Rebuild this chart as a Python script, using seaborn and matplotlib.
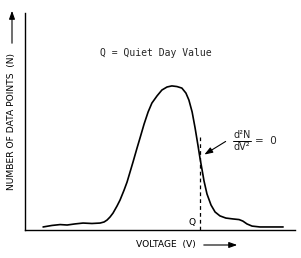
import matplotlib
matplotlib.use("Agg")
import matplotlib.pyplot as plt
from matplotlib.patches import FancyArrowPatch
from matplotlib.lines import Line2D
import pandas as pd
import seaborn as sns

# curve (voltage and count in arbitrary 0-100 units)
voltage = [6.7, 10.0, 13.0, 15.6, 18.5, 21.5, 24.8, 27.8, 29.3, 30.4, 31.5, 32.6,
           34.1, 35.2, 36.7, 37.8, 38.9, 40.0, 41.5, 42.6, 44.1, 45.6, 47.0, 48.9,
           50.7, 52.6, 54.4, 56.3, 58.1, 59.6, 60.7, 61.9, 63.0, 64.1, 64.8, 65.6,
           66.3, 67.4, 68.9, 70.4, 72.2, 74.4, 77.0, 79.3, 80.7, 82.2, 84.1, 87.0,
           91.5, 95.6]
counts = [1.4, 2.1, 2.5, 2.3, 2.8, 3.2, 3.0, 3.2, 3.7, 4.6, 6.0, 7.8,
          11.1, 13.8, 18.4, 22.1, 26.7, 31.3, 37.8, 42.4, 48.8, 54.4, 58.5, 61.8,
          64.5, 65.9, 66.4, 66.1, 65.4, 63.1, 59.9, 54.4, 47.0, 38.7, 33.2, 27.6,
          22.6, 16.6, 11.5, 8.3, 6.5, 5.5, 5.1, 4.8, 4.1, 2.8, 1.8, 1.4,
          1.4, 1.4]
q_voltage = 64.8
q_line_top = 43.0

df = pd.DataFrame({"voltage": voltage, "count": counts})

sns.set_style("white")
W, H = 301, 258
fig = plt.figure(figsize=(W / 100, H / 100), dpi=100)


def fx(px):
    return px / W


def fy(py):
    return 1 - py / H


ax = fig.add_axes([fx(25), fy(230), (295 - 25) / W, (230 - 13) / H])
sns.lineplot(data=df, x="voltage", y="count", color="black", linewidth=1.2, ax=ax)
ax.vlines(q_voltage, 0, q_line_top, colors="black", linestyles=(0, (3, 2.5)), linewidth=0.9)
ax.set_xlim(0, 100)
ax.set_ylim(0, 100)
ax.set_xticks([])
ax.set_yticks([])
ax.set_xlabel("")
ax.set_ylabel("")
for side in ["top", "right"]:
    ax.spines[side].set_visible(False)
for side in ["left", "bottom"]:
    ax.spines[side].set_color("black")
    ax.spines[side].set_linewidth(1.0)

lab = dict(family="DejaVu Sans", fontsize=6.6, color="black")
fig.text(fx(12), fy(121), "NUMBER OF DATA POINTS  (N)", rotation=90,
         ha="center", va="center", **lab)
fig.text(fx(166), fy(245), "VOLTAGE  (V)", ha="center", va="center", **lab)


def arrow(p0, p1):
    fig.add_artist(FancyArrowPatch((fx(p0[0]), fy(p0[1])), (fx(p1[0]), fy(p1[1])),
                                   transform=fig.transFigure,
                                   arrowstyle="-|>,head_length=0.7,head_width=0.25",
                                   mutation_scale=7, color="black", lw=0.8))


arrow((12, 46), (12, 8))
arrow((201, 245), (240, 245))
arrow((228, 140), (202, 156))

fig.text(fx(156), fy(53), "Q = Quiet Day Value", family="DejaVu Sans Mono",
         fontsize=7, ha="center", va="center")
ax.text(q_voltage - 1.5, 1.5, "Q", ha="right", va="bottom", **lab)

# d2N/dV2 = 0 label
fig.text(fx(242), fy(138.5), "d\u00b2N", fontsize=7, ha="center", va="baseline")
fig.text(fx(242), fy(142.5), "dV\u00b2", fontsize=7, ha="center", va="top")
fig.add_artist(Line2D([fx(233), fx(251)], [fy(140.5), fy(140.5)],
                      transform=fig.transFigure, color="black", lw=0.7))
fig.text(fx(266), fy(141), "=  0", fontsize=7.5, ha="center", va="center")

fig.savefig("out.png", dpi=100)
